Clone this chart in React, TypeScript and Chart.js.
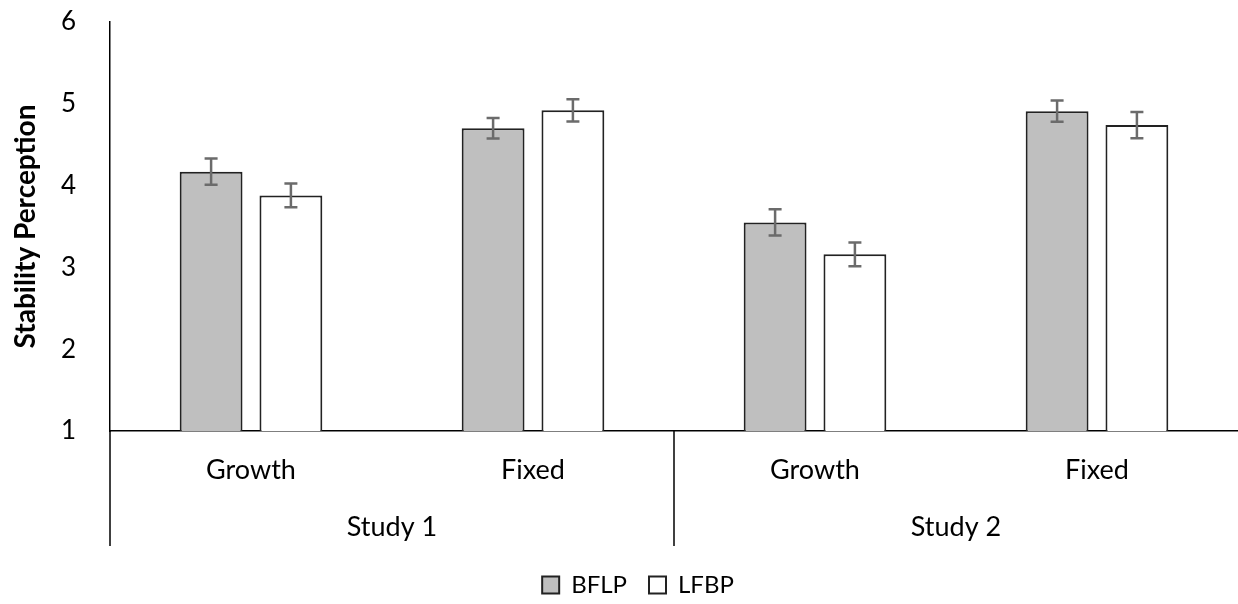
import React, { useEffect, useRef } from "react";
import { Chart, registerables } from "chart.js";

Chart.register(...registerables);

const categories = ["Growth", "Fixed", "Growth", "Fixed"];
const studies = ["Study 1", "Study 2"];
const bflpValues = [4.17, 4.7, 3.55, 4.91];
const bflpErrors = [0.16, 0.125, 0.16, 0.13];
const lfbpValues = [3.88, 4.92, 3.16, 4.74];
const lfbpErrors = [0.145, 0.135, 0.145, 0.16];
const yTicks = [1, 2, 3, 4, 5, 6];

const FONT = "Lato, 'Noto Sans', sans-serif";
const FS = 27;

const errorBarPlugin = {
  id: "errorBars",
  afterDatasetsDraw(chart: any) {
    const ctx = chart.ctx;
    const yScale = chart.scales.y;
    const errs = [bflpErrors, lfbpErrors];
    ctx.save();
    ctx.strokeStyle = "#6b6b6b";
    ctx.lineWidth = 2.5;
    chart.data.datasets.forEach((ds: any, di: number) => {
      const meta = chart.getDatasetMeta(di);
      meta.data.forEach((bar: any, i: number) => {
        const v = ds.data[i];
        const e = errs[di][i];
        const x = bar.x;
        const yT = yScale.getPixelForValue(v + e);
        const yB = yScale.getPixelForValue(v - e);
        const cap = 6.5;
        ctx.beginPath();
        ctx.moveTo(x, yT);
        ctx.lineTo(x, yB);
        ctx.moveTo(x - cap, yT);
        ctx.lineTo(x + cap, yT);
        ctx.moveTo(x - cap, yB);
        ctx.lineTo(x + cap, yB);
        ctx.stroke();
      });
    });
    ctx.restore();
  },
};

const groupAxisPlugin = {
  id: "groupAxis",
  afterLayout(chart: any) {
    const lg = chart.legend;
    if (!lg) return;
    const dx = 19;
    const dy = 579 - (lg.top + lg.height / 2);
    lg.left += dx;
    lg.right += dx;
    lg.top += dy;
    lg.bottom += dy;
  },
  afterDraw(chart: any) {
    const ctx = chart.ctx;
    const area = chart.chartArea;
    const x = chart.scales.x;
    const bottom = area.bottom + 115;
    ctx.save();
    ctx.strokeStyle = "#000";
    ctx.lineWidth = 1.5;
    const catW = (area.right - area.left) / categories.length;
    const dividers = [area.left];
    for (let g = 1; g < studies.length; g++) dividers.push(area.left + catW * 2 * g);
    dividers.forEach((dx) => {
      ctx.beginPath();
      ctx.moveTo(dx, area.bottom);
      ctx.lineTo(dx, bottom);
      ctx.stroke();
    });
    ctx.fillStyle = "#000";
    ctx.font = `${FS}px ${FONT}`;
    ctx.textAlign = "center";
    ctx.textBaseline = "middle";
    studies.forEach((s, g) => {
      const cx = (x.getPixelForValue(g * 2) + x.getPixelForValue(g * 2 + 1)) / 2;
      ctx.fillText(s, cx, area.bottom + 96);
    });
    ctx.restore();
  },
};

export default function App() {
  const ref = useRef<HTMLCanvasElement>(null);
  useEffect(() => {
    document.body.style.margin = "0";
    const chart = new Chart(ref.current as HTMLCanvasElement, {
      type: "bar",
      data: {
        labels: categories,
        datasets: [
          {
            label: "BFLP",
            data: bflpValues,
            backgroundColor: "#bfbfbf",
            borderColor: "#222",
            borderWidth: 2,
            borderSkipped: false,
          },
          {
            label: "LFBP",
            data: lfbpValues,
            backgroundColor: "#ffffff",
            borderColor: "#222",
            borderWidth: 2,
            borderSkipped: false,
          },
        ],
      },
      options: {
        animation: false,
        responsive: false,
        layout: { padding: { top: 22, right: 0, left: 0, bottom: 0 } },
        datasets: {
          bar: { categoryPercentage: 0.566, barPercentage: 0.7875 },
        },
        scales: {
          x: {
            grid: { display: false },
            border: { display: true, color: "#000", width: 1.5 },
            ticks: {
              color: "#000",
              font: { family: FONT, size: FS },
              padding: 15,
              maxRotation: 0,
            },
            afterFit(scale: any) {
              scale.height = 117;
              scale.paddingLeft = 0;
              scale.paddingRight = 0;
            },
          },
          y: {
            min: 1,
            max: 6,
            afterBuildTicks(scale: any) {
              scale.ticks = yTicks.map((v) => ({ value: v }));
            },
            grid: { display: false },
            border: { display: true, color: "#000", width: 1.5 },
            ticks: {
              color: "#000",
              font: { family: FONT, size: 26 },
              padding: 26,
            },
            title: {
              display: true,
              text: "Stability Perception",
              color: "#000",
              font: { family: FONT, size: 28, weight: "bold" },
              padding: { top: 9, bottom: 0 },
            },
            afterFit(scale: any) {
              scale.width = 110;
              scale.paddingTop = 0;
              scale.paddingBottom = 0;
            },
          },
        },
        plugins: {
          legend: {
            display: true,
            position: "bottom",
            labels: {
              color: "#000",
              font: { family: FONT, size: 24 },
              boxWidth: 17,
              boxHeight: 17,
              padding: 22,
            },
          },
          tooltip: { enabled: false },
        },
      },
      plugins: [errorBarPlugin, groupAxisPlugin],
    });
    return () => chart.destroy();
  }, []);
  return <canvas ref={ref} width={1238} height={604} style={{ display: "block" }} />;
}
